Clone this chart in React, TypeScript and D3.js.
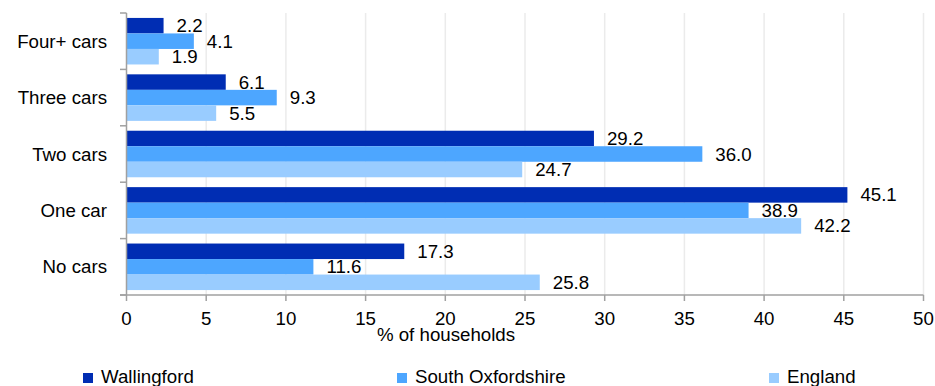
import React from "react";
import * as d3 from "d3";

const categories = ["Four+ cars", "Three cars", "Two cars", "One car", "No cars"];
const seriesNames = ["Wallingford", "South Oxfordshire", "England"];
const wallingford = [2.2, 6.1, 29.2, 45.1, 17.3];
const southOxfordshire = [4.1, 9.3, 36.0, 38.9, 11.6];
const england = [1.9, 5.5, 24.7, 42.2, 25.8];
const xTicks = [0, 5, 10, 15, 20, 25, 30, 35, 40, 45, 50];
const colors = ["#002db3", "#4da6ff", "#99ccff"];
const xTitle = "% of households";

const W = 935;
const H = 386;
const FONT = "'Liberation Sans', Arial, sans-serif";
const FS = 18.7;

export default function App() {
  const seriesValues = [wallingford, southOxfordshire, england];
  const x = d3.scaleLinear().domain([0, 50]).range([126.5, 923.5]);
  const y = d3
    .scaleBand<string>()
    .domain(categories)
    .range([13, 295])
    .paddingInner(0.175)
    .paddingOuter(0.0875);
  const ys = d3.scaleBand<string>().domain(seriesNames).range([0, y.bandwidth()]);
  const top = 13;
  const bottom = 295;
  const step = y.step();
  const boundaries = d3.range(categories.length + 1).map((i) => top + i * step);
  const legendX = [83, 397, 769];

  return (
    <svg
      width={W}
      height={H}
      style={{ position: "absolute", left: 0, top: 0 }}
      fontFamily={FONT}
    >
      <rect width={W} height={H} fill="#fff" />
      {xTicks.slice(1).map((t) => (
        <line key={t} x1={x(t)} x2={x(t)} y1={top} y2={bottom} stroke="#ebebeb" strokeWidth={1.5} />
      ))}
      {categories.map((c, ci) =>
        seriesNames.map((s, si) => {
          const v = seriesValues[si][ci];
          const by = (y(c) as number) + (ys(s) as number);
          return (
            <g key={c + s}>
              <rect x={x(0)} y={by} width={x(v) - x(0) + 2} height={ys.bandwidth()} fill={colors[si]} />
              <text x={x(v) + 15} y={by + ys.bandwidth() / 2} dy="0.35em" fontSize={FS} fill="#000">
                {v.toFixed(1)}
              </text>
            </g>
          );
        })
      )}
      {/* y axis */}
      <line x1={x(0)} x2={x(0)} y1={top} y2={bottom} stroke="#a0a0a0" strokeWidth={1.5} />
      {boundaries.map((b, i) => (
        <line key={i} x1={120} x2={x(0)} y1={b} y2={b} stroke="#a0a0a0" strokeWidth={1.5} />
      ))}
      {categories.map((c) => (
        <text
          key={c}
          x={107}
          y={(y(c) as number) + y.bandwidth() / 2}
          dy="0.35em"
          textAnchor="end"
          fontSize={FS}
          fill="#000"
        >
          {c}
        </text>
      ))}
      {/* x axis */}
      <line x1={120} x2={x(50)} y1={bottom} y2={bottom} stroke="#a0a0a0" strokeWidth={1.5} />
      {xTicks.map((t) => (
        <g key={t}>
          <line x1={x(t)} x2={x(t)} y1={bottom} y2={bottom + 6} stroke="#a0a0a0" strokeWidth={1.5} />
          <text x={x(t)} y={325} textAnchor="middle" fontSize={FS} fill="#000">
            {t}
          </text>
        </g>
      ))}
      <text x={446} y={341} textAnchor="middle" fontSize={FS} fill="#000">
        {xTitle}
      </text>
      {seriesNames.map((s, i) => (
        <g key={s}>
          <rect x={legendX[i]} y={373} width={10} height={10} fill={colors[i]} />
          <text x={legendX[i] + 18} y={383} fontSize={FS} fill="#000">
            {s}
          </text>
        </g>
      ))}
    </svg>
  );
}
